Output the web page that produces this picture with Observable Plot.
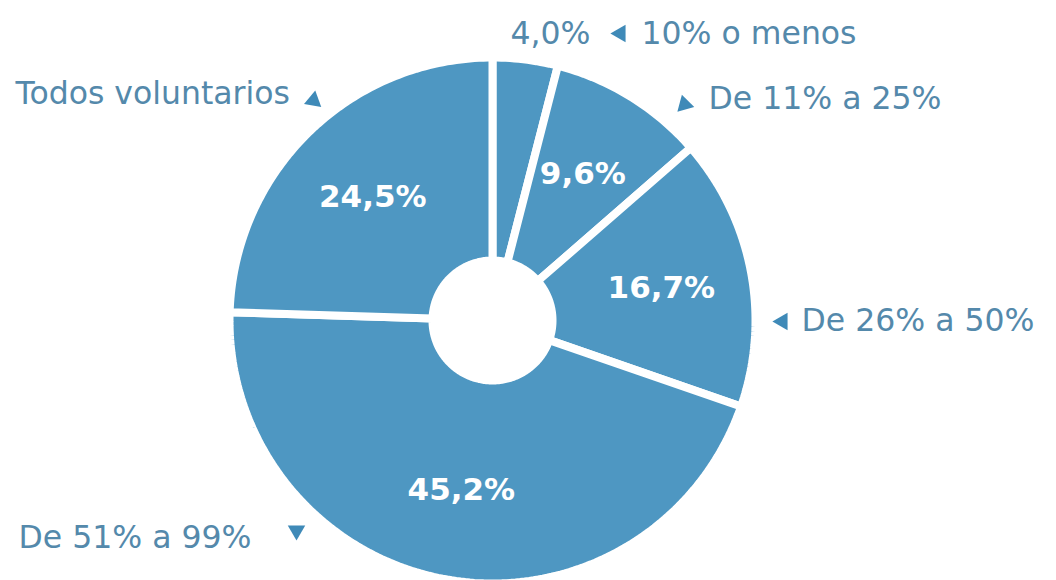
<!DOCTYPE html>
<html><head><meta charset="utf-8">
<script src="https://cdn.jsdelivr.net/npm/d3@7"></script>
<script src="https://cdn.jsdelivr.net/npm/@observablehq/plot@0.6"></script>
<style>html,body{margin:0;padding:0;background:#fff;} #chart svg{display:block}</style>
</head><body><div id="chart"></div>
<script>
// ---- data ----
const categories = ["10% o menos", "De 11% a 25%", "De 26% a 50%", "De 51% a 99%", "Todos voluntarios"];
const values = [4.0, 9.6, 16.7, 45.2, 24.5];

// ---- layout (pixel space) ----
const W = 1056, H = 580;
const center = [492, 320];
const outerR = 263, innerR = 60, labelR = 172;
const sliceColor = "#4e97c2", labelColor = "#5489ab", markerColor = "#3f8ab8";
const FONT = "'DejaVu Sans', sans-serif";

// annotation placement for each category label (text start, marker position, marker rotation)
const annX = [641, 708, 801, 18, 15];
const annY = [33, 98, 320, 537, 93];
const markX = [620, 684, 782, 296, 313];
const markY = [33, 104, 321, 530, 100];
const markRot = [270, 225, 270, 180, 10];
const outsideValueX = 510, outsideValueY = 33; // value text of slices too small for an inner label

const pct = v => d3.format(".1f")(v).replace(".", ",") + "%";
const rows = categories.map((c, i) => ({category: c, value: values[i]}));
const arcs = d3.pie().sort(null).value(d => d.value)(rows);
const pt = (a, r) => ({x: center[0] + r * Math.sin(a), y: center[1] - r * Math.cos(a)});

const polys = arcs.flatMap(a => {
  const n = Math.max(2, Math.ceil((a.endAngle - a.startAngle) / (Math.PI / 180)));
  const out = [];
  for (let i = 0; i <= n; i++) {
    const t = a.startAngle + (a.endAngle - a.startAngle) * i / n;
    out.push({...pt(t, outerR), category: a.data.category});
  }
  for (let i = n; i >= 0; i--) {
    const t = a.startAngle + (a.endAngle - a.startAngle) * i / n;
    out.push({...pt(t, innerR), category: a.data.category});
  }
  return out;
});

const inner = arcs.filter(a => a.data.value >= 5).map(a => ({
  ...pt((a.startAngle + a.endAngle) / 2, labelR), text: pct(a.data.value)
}));
const outsideVals = arcs.filter(a => a.data.value < 5).map(a => ({
  x: outsideValueX, y: outsideValueY, text: pct(a.data.value)
}));
const anns = categories.map((c, i) => ({
  text: c, x: annX[i], y: annY[i], mx: markX[i], my: markY[i], rot: markRot[i]
}));

const chart = Plot.plot({
  width: W, height: H, margin: 0,
  x: {domain: [0, W], range: [0, W], axis: null},
  y: {domain: [0, H], range: [0, H], axis: null},
  style: {fontFamily: FONT, background: "#fff"},
  marks: [
    Plot.line(polys, {x: "x", y: "y", z: "category", curve: "linear-closed",
      fill: sliceColor, stroke: "#fff", strokeWidth: 8, strokeLinejoin: "miter"}),
    Plot.text(inner, {x: "x", y: "y", text: "text", fill: "#fff", fontSize: 31, fontWeight: 700}),
    Plot.text(outsideVals, {x: "x", y: "y", text: "text", fill: labelColor, fontSize: 31.5, textAnchor: "start"}),
    Plot.text(anns, {x: "x", y: "y", text: "text", fill: labelColor, fontSize: 31.5, textAnchor: "start"}),
    Plot.dot(anns, {x: "mx", y: "my", rotate: "rot", symbol: "triangle", r: 6.5, fill: markerColor, stroke: "none"})
  ]
});
document.getElementById("chart").append(chart);
</script>
</body></html>
